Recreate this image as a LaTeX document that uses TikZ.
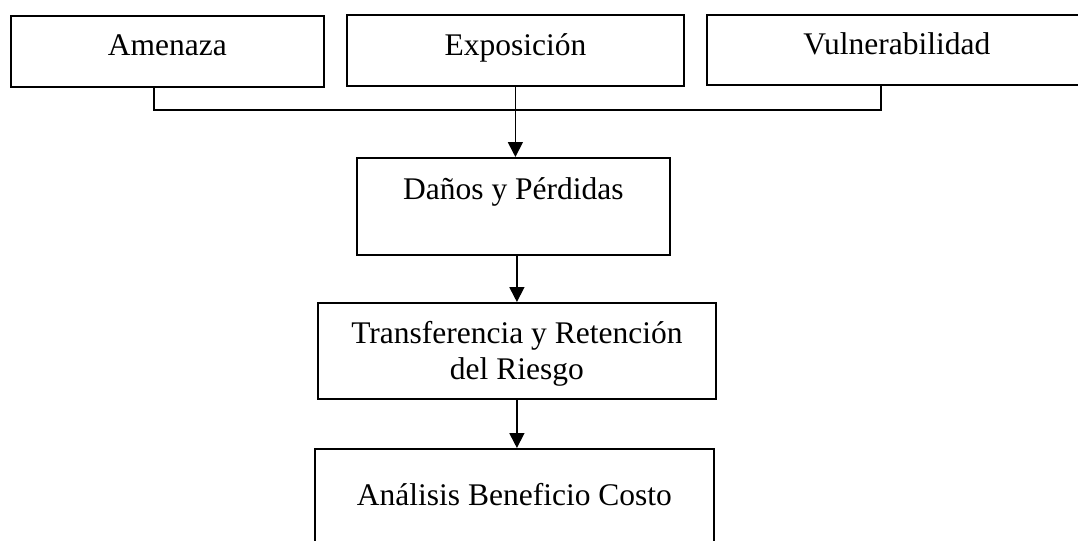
\documentclass[tikz,border=0pt]{standalone}
\usepackage{fontspec}
\setmainfont{Liberation Serif}
\usetikzlibrary{arrows.meta}

\begin{document}
\begin{tikzpicture}[x=0.025cm,y=-0.025cm,
                main/.style = {draw, rectangle, inner sep=0pt, anchor=north west,
                               font=\fontsize{22.4}{25.6}\selectfont},
                every path/.style = {line width=1.2pt},
                flecha/.style = {-{Triangle[width=0.37cm,length=0.37cm]}}]
                \useasboundingbox (0,0) rectangle (1078,540);
                \node[main, minimum width=7.825cm, text height=1cm, text depth=0.775cm] (1) at (10,15) {Amenaza};
                \node[main, minimum width=8.425cm, text height=1.025cm, text depth=0.75cm] (2) at (346,14) {Exposición};
                \node[main, minimum width=9.5cm, text height=1cm, text depth=0.75cm] (3) at (706,14) {Vulnerabilidad};
                \node[main, minimum width=7.825cm, text height=1.05cm, text depth=1.375cm] (4) at (356,157) {Daños y Pérdidas};
                \node[main, minimum width=9.95cm, text height=1.925cm, text depth=0.475cm, align=center] (5) at (317,302) {Transferencia y Retención\\del Riesgo};
                \node[main, minimum width=9.975cm, text height=1.425cm, text depth=1cm] (6) at (314,448) {Análisis Beneficio Costo};
                \coordinate (j1) at (154,110);
                \coordinate (j2) at (881,110);
                \draw (1.south -| j1) -- (j1) -- (j2) -- (3.south -| j2);
                \draw[flecha] (2.south) -- (2.south |- 4.north);
                \draw[flecha] (5.north |- 4.south) -- (5.north);
                \draw[flecha] (5.south) -- (5.south |- 6.north);
            \end{tikzpicture}
\end{document}
